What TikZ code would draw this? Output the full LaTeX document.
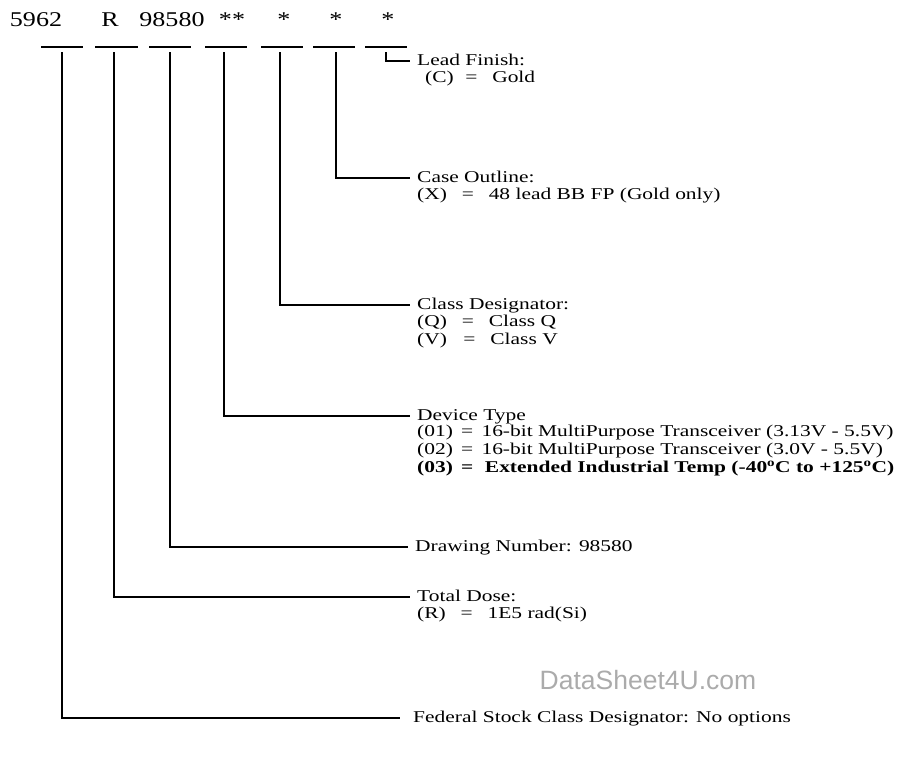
\documentclass[tikz,border=0pt]{standalone}
\usepackage{fontspec}
\setmainfont[FakeStretch=1.3]{Liberation Serif}
\newfontfamily\partfont[FakeStretch=1.24]{Liberation Serif}
\newfontfamily\wmfont{Liberation Sans}
\usetikzlibrary{positioning}

\tikzset{
  partno/.style={font=\partfont\fontsize{21}{24}\selectfont, inner sep=0pt, anchor=base},
  fieldname/.style={font=\fontsize{16.5}{18}\selectfont, inner ysep=0pt, inner xsep=7pt,
    text height=11.5pt, text depth=3.5pt, anchor=west},
  fieldopts/.style={font=\fontsize{16.5}{18}\selectfont, inner sep=0pt, align=left},
  leader/.style={line width=1.8pt},
  watermark/.style={font=\wmfont\fontsize{26.5}{30}\selectfont, text=black!33, inner sep=0pt},
}

\begin{document}
\begin{tikzpicture}[x=1pt,y=-1pt]
  \useasboundingbox (0,0) rectangle (907,758);
  % part number
  \node[partno] (pnA) at (36,26) {5962};
  \node[partno] (pnB) at (110,26) {R};
  \node[partno] (pnC) at (172,26) {98580};
  \node[partno] (pnD) at (232,26) {**};
  \node[partno] (pnE) at (284,26) {*};
  \node[partno] (pnF) at (336,26) {*};
  \node[partno] (pnG) at (388,26) {*};
  % blanks
  \foreach \a/\b in {41/83,95/138,149/191,205/247,261/303,313/355,365/407}
    \draw[leader] (\a,47) -- (\b,47) ;
  \coordinate (tA) at (62,52) ;
  \coordinate (tB) at (114,52) ;
  \coordinate (tC) at (170,52) ;
  \coordinate (tD) at (224,52) ;
  \coordinate (tE) at (280,52) ;
  \coordinate (tF) at (336,52) ;
  \coordinate (tG) at (386,52) ;

  % fields
  \node[fieldname] (leadT) at (410,61) {Lead Finish:} ;
  \node[fieldopts, below=2pt of leadT.south west, anchor=north west, xshift=15pt] (leadO)
    {(C)\hspace{0.7em}=\hspace{0.9em}Gold} ;
  \node[fieldname] (caseT) at (410,178) {Case Outline:} ;
  \node[fieldopts, below=2pt of caseT.south west, anchor=north west, xshift=7pt] (caseO)
    {(X)\hspace{0.9em}=\hspace{0.9em}48 lead BB FP (Gold only)} ;
  \node[fieldname] (classT) at (410,305) {Class Designator:} ;
  \node[fieldopts, below=2pt of classT.south west, anchor=north west, xshift=7pt] (classO)
    {(Q)\hspace{0.9em}=\hspace{0.9em}Class Q\\(V)\hspace{1.0em}=\hspace{0.9em}Class V} ;
  \node[fieldname] (devT) at (410,416) {Device Type} ;
  \node[fieldopts, below=1pt of devT.south west, anchor=north west, xshift=7pt] (devO)
    {(01)\hspace{0.5em}=\hspace{0.5em}16-bit MultiPurpose Transceiver (3.13V - 5.5V)\\
     (02)\hspace{0.5em}=\hspace{0.5em}16-bit MultiPurpose Transceiver (3.0V - 5.5V)\\
     \textbf{(03)\hspace{0.5em}=\hspace{0.7em}Extended Industrial Temp (-40\textsuperscript{o}C to +125\textsuperscript{o}C)}} ;
  \node[fieldname] (drawT) at (408,547) {Drawing Number: 98580} ;
  \node[fieldname] (doseT) at (410,597) {Total Dose:} ;
  \node[fieldopts, below=2pt of doseT.south west, anchor=north west, xshift=7pt] (doseO)
    {(R)\hspace{0.9em}=\hspace{0.9em}1E5 rad(Si)} ;
  \node[fieldname, inner xsep=13pt] (fedT) at (400,718) {Federal Stock Class Designator: No options} ;

  \node[watermark] (wm) at (648,680) {DataSheet4U.com} ;

  % leaders to the fields
  \draw[leader] (tA) |- (fedT.west) ;
  \draw[leader] (tB) |- (doseT.west) ;
  \draw[leader] (tC) |- (drawT.west) ;
  \draw[leader] (tD) |- (devT.west) ;
  \draw[leader] (tE) |- (classT.west) ;
  \draw[leader] (tF) |- (caseT.west) ;
  \draw[leader] (tG) |- (leadT.west) ;
\end{tikzpicture}
\end{document}
